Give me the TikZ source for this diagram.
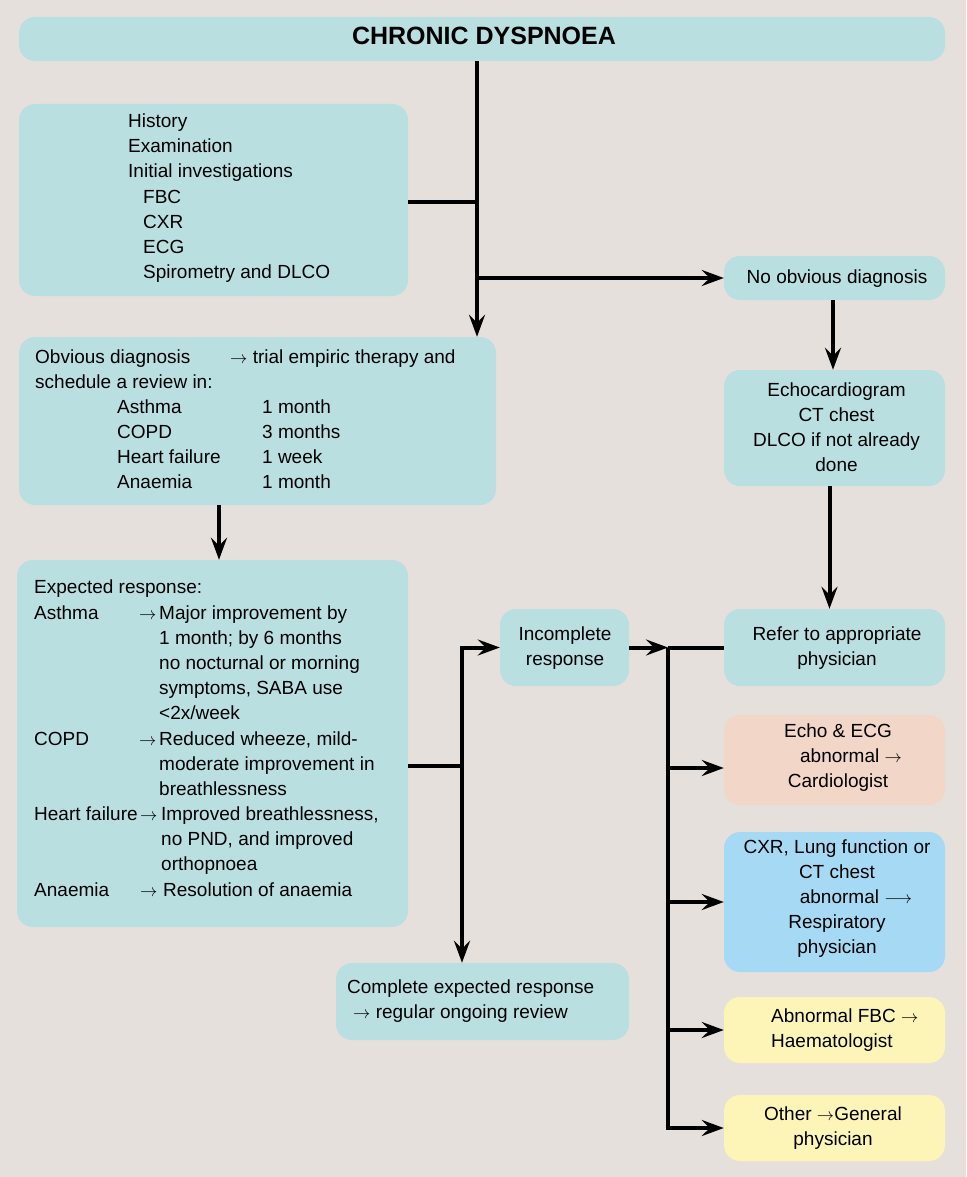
\documentclass[tikz,border=0pt]{standalone}
\usepackage{fontspec}
\setmainfont{Liberation Sans}
\usetikzlibrary{arrows.meta,calc}
\definecolor{bgc}{HTML}{E5E0DC}
\definecolor{tealc}{HTML}{B9DFE0}
\definecolor{salmonc}{HTML}{F2D6C8}
\definecolor{bluec}{HTML}{A6DAF4}
\definecolor{yellowc}{HTML}{FDF4B8}
\begin{document}
\begin{tikzpicture}[x=1pt,y=-1pt,
  box/.style={rounded corners=16pt, inner sep=0pt, draw=none, fill=tealc},
  txt/.style={inner sep=0pt, font=\fontsize{19}{25}\selectfont, anchor=base west, align=left},
  ctxt/.style={inner sep=0pt, font=\fontsize{19}{25}\selectfont, anchor=base, align=center},
  ttltxt/.style={inner sep=0pt, font=\fontsize{25}{30}\selectfont\bfseries, anchor=base},
  conn/.style={line width=4pt},
  tip/.tip={Stealth[length=22pt,width=16pt,inset=8pt]},
  arr/.style={conn, -tip},
  arrbb/.style={conn, tip-tip},
]
\fill[bgc] (0,0) rectangle (966,1177);
\useasboundingbox (0,0) rectangle (966,1177);

% boxes
\node[box, minimum width=926pt, minimum height=44pt] (title) at (482,39) {};
\node[box, minimum width=389pt, minimum height=192pt] (hist) at (213.5,200) {};
\node[box, minimum width=221pt, minimum height=44pt] (noobv) at (834.5,278) {};
\node[box, minimum width=221pt, minimum height=116pt] (echo) at (834.5,428) {};
\node[box, minimum width=477pt, minimum height=168pt] (obv) at (257.5,421) {};
\node[box, minimum width=391pt, minimum height=367pt] (exp) at (212.5,743.5) {};
\node[box, minimum width=129pt, minimum height=77pt] (inc) at (564.5,647.5) {};
\node[box, minimum width=221pt, minimum height=77pt] (refer) at (834.5,647.5) {};
\node[box, fill=salmonc, minimum width=221pt, minimum height=90pt] (cardio) at (834.5,760) {};
\node[box, fill=bluec, minimum width=221pt, minimum height=140pt] (cxr) at (834.5,902) {};
\node[box, fill=yellowc, minimum width=221pt, minimum height=66pt] (fbc) at (834.5,1030) {};
\node[box, fill=yellowc, minimum width=221pt, minimum height=66pt] (other) at (834.5,1128) {};
\node[box, minimum width=293pt, minimum height=77pt] (compl) at (482.5,1001.5) {};

% texts (multi-line nodes: base anchor = baseline of last line)
\node[ttltxt] (titleT) at (484,45) {CHRONIC DYSPNOEA};
\node[txt] (histA) at (128,178) {History\\Examination\\Initial investigations};
\node[txt] (histB) at (143,278) {FBC\\CXR\\ECG\\Spirometry and DLCO};
\node[ctxt] (noobvT) at (837,283) {No obvious diagnosis};
\node[ctxt] (echoT) at (836.5,471) {Echocardiogram\\CT chest\\DLCO if not already\\done};

\node[txt] (obvA) at (35,363) {Obvious diagnosis};
\node[txt] (obvB) at (230,363) {$\rightarrow$ trial empiric therapy and};
\node[txt] (obvC) at (35,388) {schedule a review in:};
\node[txt] (obvD) at (117,488) {Asthma\\COPD\\Heart failure\\Anaemia};
\node[txt] (obvE) at (262,488) {1 month\\3 months\\1 week\\1 month};

\node[txt] (expA) at (34,593) {Expected response:};
\node[txt] (expB) at (34,619) {Asthma};
\node[txt] (expC) at (139,619) {$\rightarrow$};
\node[txt] (expD) at (159,719) {Major improvement by\\1 month; by 6 months\\no nocturnal or morning\\symptoms, SABA use\\<2x/week};
\node[txt] (expE) at (34,745) {COPD};
\node[txt] (expF) at (139,745) {$\rightarrow$};
\node[txt] (expG) at (159,795) {Reduced wheeze, mild-\\moderate improvement in\\breathlessness};
\node[txt] (expH) at (34,820) {Heart failure};
\node[txt] (expI) at (140,820) {$\rightarrow$};
\node[txt] (expJ) at (161,870) {Improved breathlessness,\\no PND, and improved\\orthopnoea};
\node[txt] (expK) at (34,896) {Anaemia};
\node[txt] (expL) at (140,896) {$\rightarrow$};
\node[txt] (expM) at (163,896) {Resolution of anaemia};

\node[ctxt] (incT) at (565,665) {Incomplete\\response};
\node[ctxt] (referT) at (837,665) {Refer to appropriate\\physician};
\node[ctxt] (cardioT) at (838,787) {Echo \& ECG\\\hspace*{26pt}abnormal $\rightarrow$\\Cardiologist};
\node[ctxt] (cxrT) at (837,953) {CXR, Lung function or\\CT chest\\\hspace*{38pt}abnormal $\longrightarrow$\\Respiratory\\physician};
\node[txt] (fbcT) at (771,1047) {Abnormal FBC $\rightarrow$\\Haematologist};
\node[ctxt] (otherT) at (833,1145) {Other $\rightarrow$General\\physician};
\node[txt] (complT) at (347,1018) {Complete expected response\\\hspace*{6pt}$\rightarrow$ regular ongoing review};

% connectors
\coordinate (tx) at (477,0);
\coordinate (ox) at (219,0);
\coordinate (j2) at (462,766);
\coordinate (j3) at (668,0);
\coordinate (ca) at ($(cardio.west)+(0,8)$);
\draw[arr] (title.south -| tx) -- (obv.north -| tx);
\draw[conn] ($(hist.east)+(0,2)$) -- ($(hist.east -| tx)+(0,2)$);
\draw[arr] (tx |- noobv.west) -- (noobv.west);
\draw[arr] ($(noobv.south)+(-1.5,0)$) -- ($(echo.north)+(-1.5,0)$);
\draw[arr] ($(echo.south)+(-5,0)$) -- ($(refer.north)+(-5,0)$);
\draw[arr] (obv.south -| ox) -- (exp.north -| ox);
\draw[conn] (exp.east |- j2) -- (j2);
\draw[arrbb] (inc.west) -- (j2 |- inc.west) -- (compl.north -| j2);
\draw[arr] (inc.east) -- (inc.east -| j3);
\draw[conn] (j3 |- inc.east) -- (refer.west);
\draw[arr] (j3 |- inc.east) -- (j3 |- other.west) -- (other.west);
\draw[arr] (j3 |- ca) -- (ca);
\draw[arr] (j3 |- cxr.west) -- (cxr.west);
\draw[arr] (j3 |- fbc.west) -- (fbc.west);
\end{tikzpicture}
\end{document}
